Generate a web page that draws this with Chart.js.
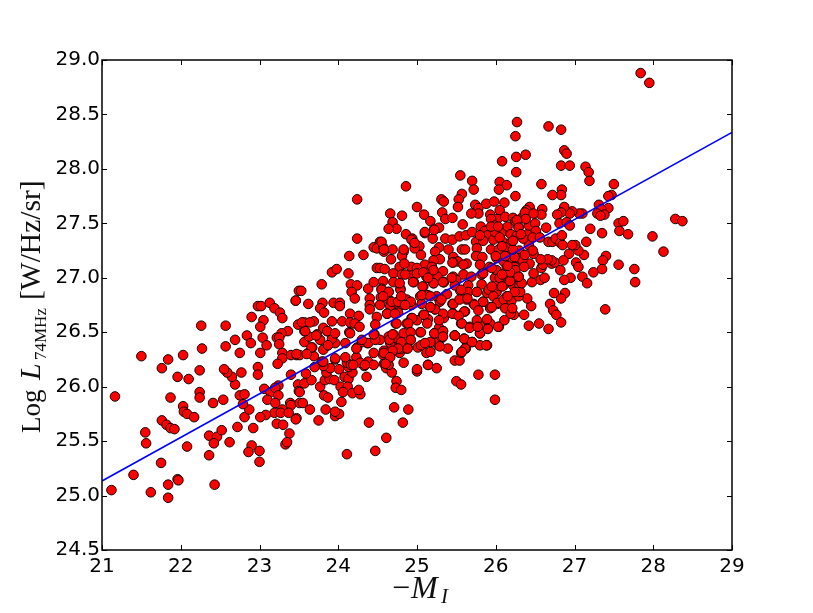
<!DOCTYPE html>
<html><head><meta charset="utf-8">
<style>html,body{margin:0;padding:0;background:#fff}#w{width:813px;height:613px}</style>
<script src="https://cdn.jsdelivr.net/npm/chart.js@4"></script></head>
<body><div id="w"><canvas id="c" width="813" height="613"></canvas></div>
<script>
const xTicks=[21,22,23,24,25,26,27,28,29];
const yTicks=[24.5,25,25.5,26,26.5,27,27.5,28,28.5,29];
const fitX=[21,29];
const fitY=[25.134,28.335];
const faintSample=[[21.12,25.05],[21.165,25.91],[21.5,26.28],[21.76,26.17],[21.84,26.25],[22.03,26.29],[21.96,26.09],[22.1,26.07],[21.87,25.9],[22.24,26.15],[22.26,26.56],[22.27,26.35],[22.24,25.95],[22.24,25.9],[22.03,25.82],[22.04,25.77],[22.08,25.75],[22.17,25.72],[22.41,25.85],[22.54,25.88],[21.76,25.69],[21.82,25.65],[21.87,25.62],[21.92,25.61],[21.55,25.58],[21.56,25.48],[21.75,25.3],[21.4,25.19],[21.96,25.15],[22.08,25.45],[22.36,25.37],[22.36,25.55],[22.46,25.54],[22.42,25.48],[22.52,25.6],[22.62,25.49],[22.72,25.63],[22.81,25.72],[22.92,25.62],[22.87,25.79],[22.79,25.84],[22.75,25.92],[22.81,25.93],[22.69,26.02],[22.65,26.09],[22.59,26.13],[22.55,26.16],[22.77,26.13],[22.98,26.18],[22.98,26.11],[22.57,26.56],[22.57,26.37],[22.69,26.43],[22.75,26.31],[22.84,26.47],[22.89,26.4],[22.9,26.64],[22.98,26.74],[23.02,26.74],[23.13,26.77],[23.19,26.72],[23.26,26.68],[23.29,26.63],[23.05,26.61],[23.01,26.55],[23.04,26.45],[23.09,26.38],[23.01,26.31],[23.36,26.51],[23.28,26.49],[23.22,26.45],[23.25,26.45],[23.25,26.39],[23.29,26.31],[23.29,26.26],[23.23,26.21],[23.4,26.29],[23.47,26.29],[23.51,26.29],[23.4,26.11],[23.46,26.79],[23.49,26.57],[23.06,25.98],[23.14,25.95],[23.24,26.01],[23.2,25.99],[23.24,25.92],[23.1,25.88],[23.2,25.85],[23.39,25.85],[23.4,25.83],[23.29,25.79],[23.19,25.76],[23.27,25.76],[23.37,25.76],[23.08,25.74],[23.01,25.72],[23.47,25.71],[23.22,25.66],[23.3,25.65],[23.38,25.57],[23.33,25.47],[23.35,25.49],[22.9,25.46],[22.86,25.4],[23,25.41],[23,25.31],[23.49,26.02],[23.5,25.96],[23.51,25.85],[23.5,26.88],[21.62,25.03],[21.84,25.1],[21.84,24.98],[21.97,25.14],[22.43,25.1]];
const lowerSample=[[24.11,25.38],[24.47,25.41],[24.61,25.53],[24.39,25.67],[24.82,25.67],[24.71,25.81],[24.89,25.79],[23.75,25.69],[23.46,25.7],[23.84,25.79],[23.64,25.79],[23.55,25.85],[23.96,25.73],[24.01,25.75],[23.96,25.77],[24.04,25.86],[23.82,25.92],[23.87,25.9],[23.77,26],[23.51,25.95],[23.57,26.03],[23.66,26.06],[23.59,26.12],[23.83,26.06],[23.89,26.07],[23.95,26.06],[23.85,26.13],[23.9,26.17],[23.81,26.19],[23.96,26.25],[23.79,26.23],[24.01,26.16],[24.08,26.09],[24.13,26.07],[24.18,26.13],[24.13,26.18],[24.11,26.22],[24.09,26.27],[24.23,26.27],[24.16,26.2],[24.03,26],[24.12,26],[24.06,25.95],[24.18,25.94],[24.28,25.93],[24.26,25.97],[24.36,26.09],[24.33,26.19],[24.28,26.22],[24.38,26.23],[24.45,26.2],[24.45,26.31],[24.58,26.21],[24.61,26.17],[24.68,26.13],[24.64,26.2],[24.74,26.05],[24.73,25.99],[24.8,25.97],[24.83,26.22],[25,26.14],[25.14,26.2],[25.25,26.17],[25.78,26.11],[25.99,26.11],[25.99,25.88],[25.5,26.05],[25.56,26.02],[25.48,26.24],[25.54,26.24],[25.56,26.31],[25.62,26.35],[25.7,26.41],[25.8,26.38],[25.89,26.38],[25.39,26.35],[25.12,26.31],[25.17,26.32],[24.78,26.31],[24.68,26.32],[24.59,26.29],[24.58,26.33],[24.88,26.36],[24.8,26.37],[25.01,26.36],[25.05,26.38],[25.25,26.43],[25.27,26.38],[25.32,26.45],[25.48,26.47],[25.6,26.44],[23.47,26.3],[23.62,26.31],[23.69,26.28],[23.67,26.36],[23.57,26.41],[23.81,26.34],[23.87,26.38],[23.96,26.4],[23.77,26.43],[23.73,26.48],[23.63,26.46],[23.57,26.51],[23.92,26.44],[23.86,26.51],[24.09,26.4],[24.24,26.36],[24.37,26.4],[24.3,26.41],[24.47,26.44],[24.14,26.5],[24.46,26.48],[25.88,26.38],[25.61,26.35],[25.57,26.32],[25.25,26.41],[25.29,26.37],[25.17,26.41],[25.1,26.4],[24.92,26.43],[24.8,26.35],[24.73,26.44],[24.7,26.48],[24.66,26.4],[24.87,26.35],[24.69,26.32],[24.57,26.29],[24.53,26.43],[24.38,26.4],[24.47,26.43],[24.3,26.43],[24.23,26.35],[23.87,26.38],[23.66,26.36],[23.6,26.3],[23.96,26.26],[23.81,26.23],[23.7,26.18],[24.19,26.2],[24.34,26.2],[24.6,26.21],[25,26.16],[25.14,26.2]];
const coreSample=[[24.24,27.72],[24.86,27.84],[25.55,27.94],[25.7,27.89],[25.72,27.81],[26.05,27.88],[26.14,27.85],[26.04,27.81],[26.25,27.75],[25.57,27.77],[25.53,27.72],[25.52,27.65],[25.31,27.72],[25.34,27.7],[25,27.65],[25.09,27.58],[24.66,27.59],[24.81,27.57],[25.32,27.6],[25.17,27.52],[25.36,27.54],[25.45,27.55],[24.69,27.51],[24.74,27.45],[24.64,27.45],[25.58,27.49],[25.74,27.67],[25.78,27.64],[25.88,27.68],[25.98,27.7],[26.11,27.69],[26.05,27.62],[25.78,27.59],[25.69,27.59],[25.93,27.58],[26.02,27.54],[26.12,27.56],[26.22,27.55],[25.94,27.54],[25.99,27.48],[26.15,27.47],[26.25,27.52],[26.07,27.41],[26.19,27.4],[26.29,27.47],[24.24,27.36],[24.53,27.33],[24.45,27.28],[24.49,27.27],[24.57,27.28],[24.69,27.26],[24.14,27.2],[24.32,27.21],[24.67,27.17],[24.58,27.24],[23.92,27.05],[23.98,27.08],[24.13,27.04],[24.49,27.09],[24.53,27.09],[24.59,27.08],[24.78,27.1],[24.7,27.04],[24.86,27.4],[24.94,27.36],[24.97,27.31],[25.03,27.29],[25.1,27.41],[25.22,27.45],[25.28,27.46],[25.2,27.36],[25.36,27.36],[25.45,27.35],[25.54,27.38],[25.62,27.39],[25.7,27.42],[25.81,27.47],[25.86,27.43],[25.9,27.39],[25.75,27.33],[25.84,27.34],[25.97,27.35],[26.09,27.33],[26.2,27.33],[26.27,27.39],[24.83,27.24],[24.81,27.2],[25.05,27.21],[24.97,27.27],[25.28,27.28],[25.4,27.26],[25.23,27.24],[25.57,27.26],[25.61,27.26],[25.76,27.27],[25.94,27.26],[26.04,27.26],[26.18,27.25],[25.75,27.2],[25.83,27.19],[26.01,27.18],[26.16,27.17],[25.46,27.19],[25.52,27.15],[25.29,27.17],[25.46,27.14],[25.21,27.16],[25.1,27.12],[24.93,27.1],[25,27.09],[25.19,27.1],[25.63,27.13],[25.8,27.12],[25.92,27.1],[26.14,27.1],[26.27,27.13],[24.93,27.02],[25.12,27.01],[24.81,27.03],[25.33,27.06],[25.26,27.01],[25.46,27.01],[25.59,27.03],[25.69,27.01],[25.82,27.03],[26.01,27],[26.21,27.04],[26.29,27.01],[24.16,26.94],[24.24,26.93],[24.38,26.9],[24.45,26.96],[24.57,26.97],[24.55,26.9],[24.64,26.87],[24.79,26.9],[24.96,26.96],[25.08,26.92],[25.21,26.95],[25.34,26.96],[25.5,26.98],[25.65,26.93],[25.82,26.94],[26.1,26.93],[26.22,26.93],[24.17,26.87],[24.21,26.81],[24.4,26.81],[24.54,26.82],[24.64,26.8],[24.76,26.78],[24.87,26.8],[25.04,26.83],[25.14,26.84],[25.25,26.83],[25.38,26.85],[25.55,26.88],[25.65,26.87],[25.76,26.87],[25.89,26.86],[26.01,26.87],[26.14,26.83],[26.27,26.86],[23.62,26.76],[23.8,26.77],[23.94,26.77],[24.02,26.77],[24.4,26.75],[24.53,26.75],[24.66,26.74],[24.78,26.74],[24.93,26.75],[25.06,26.76],[25.17,26.73],[25.29,26.78],[25.45,26.76],[25.63,26.8],[25.72,26.76],[25.84,26.78],[26.02,26.76],[23.77,26.72],[23.82,26.68],[24.02,26.74],[23.92,26.6],[24.05,26.6],[24.15,26.67],[24.26,26.65],[24.4,26.71],[24.49,26.64],[24.62,26.67],[24.76,26.68],[24.93,26.63],[25.08,26.66],[25.23,26.71],[25.34,26.63],[25.46,26.67],[25.61,26.69],[25.93,26.73],[26.21,26.67],[23.57,26.59],[23.69,26.6],[23.81,26.54],[23.86,26.51],[24.15,26.59],[24.21,26.58],[24.27,26.55],[24.47,26.57],[24.73,26.58],[24.87,26.58],[25,26.61],[25.14,26.62],[25.28,26.54],[25.56,26.58],[25.67,26.55],[25.8,26.56],[25.93,26.58],[26.04,26.55],[26.11,26.61],[23.58,26.51],[23.72,26.47],[23.96,26.49],[24.15,26.49],[24.45,26.48],[24.64,26.46],[25.04,26.5],[25.22,26.49],[25.33,26.51],[25.31,26.46],[25.48,26.47],[25.8,26.49],[25.6,26.44],[23.53,26.88],[23.46,26.79],[23.79,26.94],[23.54,26.59],[23.64,26.59]];
const denseCoreLow=[[24.7,26.96],[24.79,26.89],[24.95,26.96],[25.07,26.92],[25.21,26.95],[25.34,26.96],[25.48,26.93],[24.55,26.89],[24.64,26.87],[24.57,26.83],[24.68,26.78],[24.76,26.78],[24.8,26.83],[24.92,26.78],[25.06,26.84],[25.17,26.83],[25.31,26.8],[25.46,26.76],[25.54,26.8],[25.64,26.81],[25.56,26.89],[25.76,26.87],[25.91,26.89],[25.97,26.83],[25.84,26.78],[25.73,26.75],[25.93,26.72],[25.78,26.7],[25.6,26.69],[25.45,26.67],[25.33,26.67],[25.23,26.71],[25.17,26.73],[25.09,26.66],[24.94,26.63],[24.85,26.75],[24.62,26.67],[24.72,26.67],[24.74,26.58],[24.89,26.58],[25.13,26.58],[25.28,26.61],[25.53,26.65],[25.57,26.58],[25.67,26.54],[25.76,26.61],[25.89,26.62],[25.8,26.49],[25.9,26.53],[26.03,26.55],[25.77,26.55],[25.48,26.47],[25.6,26.44],[25.7,26.41],[25.22,26.49],[25.33,26.51],[25.33,26.46],[25.05,26.5],[24.83,26.49],[24.92,26.5],[24.92,26.43],[24.72,26.45],[24.65,26.43],[24.69,26.48],[24.8,26.41],[24.88,26.35],[24.76,26.35],[24.69,26.33],[24.58,26.31],[24.66,26.27],[24.6,26.21]];
const denseCoreHigh=[[24.55,27.33],[24.58,27.26],[24.83,27.26],[24.84,27.13],[24.93,27.35],[24.97,27.32],[25.1,27.42],[25.22,27.44],[25.8,27.39],[25.99,27.42],[25.94,27.47],[26.03,27.47],[25.45,27.14],[25.59,27.12],[25,27.04],[24.85,27.03],[25.08,27.05],[25.21,27.07],[25.44,27],[25.84,27.04],[25.99,27],[24.78,26.95],[25.14,27],[25.33,26.96],[26,27.2],[26.02,26.77],[25.95,26.73],[26.03,26.93],[25.95,26.92],[26.01,27.07],[25.95,27.09],[26.24,27.1],[26.05,27],[26.15,27.02],[26.1,26.8],[26.12,26.72],[26.2,26.79],[26.3,26.93],[26.25,27.07],[26.3,27.25],[26.42,27.3],[26.28,27.18],[26.1,27.15],[26.12,27.28],[26.05,27.37],[26.4,27.4],[26.42,27.48],[26.33,27.55]];
const brightSample=[[27.84,28.88],[27.95,28.79],[26.27,28.43],[26.25,28.3],[26.67,28.39],[26.83,28.36],[26.08,28.07],[26.26,28.11],[26.38,28.13],[26.26,27.97],[26.87,28.17],[26.9,28.14],[26.83,28.03],[26.94,28.03],[27.14,28.02],[27.18,27.97],[27.19,27.89],[27.5,27.86],[26.58,27.86],[26.84,27.81],[26.83,27.76],[26.72,27.76],[27.47,27.76],[27.43,27.75],[27.31,27.67],[27.43,27.64],[27.34,27.63],[27.29,27.59],[27.38,27.58],[27.33,27.57],[27.1,27.59],[27.06,27.59],[26.97,27.61],[26.94,27.59],[26.87,27.65],[26.83,27.6],[26.78,27.58],[26.59,27.63],[26.58,27.58],[26.43,27.65],[26.39,27.62],[26.37,27.6],[26.48,27.59],[26.38,27.54],[26.27,27.53],[26.5,27.5],[26.81,27.5],[26.9,27.51],[26.94,27.48],[26.64,27.46],[26.51,27.43],[26.29,27.46],[27.2,27.45],[27.35,27.41],[27.56,27.5],[27.62,27.52],[27.57,27.43],[27.68,27.4],[28.28,27.54],[28.37,27.52],[27.99,27.38],[28.13,27.24],[27.76,27.08],[27.77,26.96],[27.56,27.12],[27.4,27.2],[27.36,27.16],[27.35,27.08],[27.24,27.05],[27.39,26.71],[27.15,27.33],[27.12,27.21],[27.05,27.25],[27.01,27.3],[26.97,27.3],[26.93,27.22],[27.02,27.14],[27.05,27.1],[27.1,27.01],[27.16,26.95],[26.95,27],[26.87,26.98],[26.88,26.86],[26.83,26.81],[26.74,26.86],[26.69,26.76],[26.73,26.7],[26.77,26.66],[26.83,26.59],[26.67,26.53],[26.55,26.58],[26.42,26.56],[26.36,26.66],[26.45,26.74],[26.4,26.81],[26.23,26.66],[26.19,26.67],[26.21,26.72],[26.29,26.83],[26.31,26.87],[26.24,26.87],[26.15,26.83],[26.08,26.92],[26.33,26.95],[26.18,26.97],[26.29,27.01],[26.46,26.96],[26.57,26.98],[26.62,27],[26.48,27.04],[26.18,27.05],[26.08,27.03],[26.58,27.09],[26.6,27.12],[26.82,27.07],[26.43,27.13],[26.34,27.16],[26.36,27.1],[26.15,27.11],[26.71,27.13],[26.75,27.14],[26.71,27.16],[26.66,27.17],[26.57,27.17],[26.86,27.16],[26.48,27.22],[26.47,27.25],[26.37,27.21],[26.24,27.19],[26.22,27.26],[26.12,27.2],[26.08,27.29],[26.22,27.34],[26.35,27.36],[26.47,27.37],[26.56,27.37],[26.67,27.33],[26.72,27.33],[26.76,27.36],[26.82,27.32],[26.84,27.39],[26.85,27.3],[26.32,27.4]];
const redPoints=[...faintSample,...lowerSample,...coreSample,...denseCoreLow,...denseCoreHigh,...brightSample].map(p=>({x:p[0],y:p[1]}));

const serif='"Liberation Serif",serif';
const deco={id:'deco',
  afterDatasetsDraw(ch){
    const {ctx,chartArea:a,scales:{x,y}}=ch;
    ctx.save();
    ctx.strokeStyle='#000';ctx.lineWidth=1;
    xTicks.forEach(v=>{const p=Math.round(x.getPixelForValue(v))+.5;
      ctx.beginPath();ctx.moveTo(p,a.top);ctx.lineTo(p,a.top+5);ctx.moveTo(p,a.bottom);ctx.lineTo(p,a.bottom-5);ctx.stroke();});
    yTicks.forEach(v=>{const p=Math.round(y.getPixelForValue(v))+.5;
      ctx.beginPath();ctx.moveTo(a.left,p);ctx.lineTo(a.left+5,p);ctx.moveTo(a.right,p);ctx.lineTo(a.right-5,p);ctx.stroke();});
    ctx.lineWidth=1.5;ctx.strokeRect(a.left,a.top,a.right-a.left,a.bottom-a.top);
    ctx.fillStyle='#111';ctx.textBaseline='alphabetic';ctx.textAlign='left';
    const put=(t,f,px,py)=>{ctx.font=f;ctx.fillText(t,px,py);};
    put('\u2212','32px '+serif,392,598);
    put('M','italic 32px '+serif,411,598);
    put('I','italic 21px '+serif,441,603);
    ctx.translate(40,433);ctx.rotate(-Math.PI/2);
    put('Log','27px '+serif,0,0);
    put('L','italic 30px '+serif,53,0);
    put('74MHz','17px '+serif,73,6);
    put('[W/Hz/sr]','29.5px '+serif,133,0);
    ctx.restore();
  }};
new Chart(document.getElementById('c'),{
  type:'scatter',
  data:{datasets:[
    {data:fitX.map((v,i)=>({x:v,y:fitY[i]})),showLine:true,borderColor:'#0000ff',borderWidth:1.6,pointRadius:0,order:0,clip:true},
    {data:redPoints,backgroundColor:'#ff0000',borderColor:'#140000',borderWidth:1,pointRadius:4.8,order:1}
  ]},
  options:{responsive:false,animation:false,
    layout:{padding:{left:0,right:81,top:60,bottom:0}},
    plugins:{legend:{display:false},tooltip:{enabled:false}},
    scales:{
      x:{type:'linear',min:21,max:29,afterFit(s){s.height=63},afterBuildTicks(s){s.ticks=xTicks.map(v=>({value:v}))},
        grid:{display:false,drawTicks:false},border:{display:false},
        ticks:{font:{family:'"DejaVu Sans"',size:20},color:'#000',padding:5,maxRotation:0,callback:v=>String(v)}},
      y:{type:'linear',min:24.5,max:29,afterFit(s){s.width=102},afterBuildTicks(s){s.ticks=yTicks.map(v=>({value:v}))},
        grid:{display:false,drawTicks:false},border:{display:false},
        ticks:{font:{family:'"DejaVu Sans"',size:20},color:'#000',padding:2,callback:v=>v.toFixed(1)}}
    }},
  plugins:[deco]
});
</script></body></html>
